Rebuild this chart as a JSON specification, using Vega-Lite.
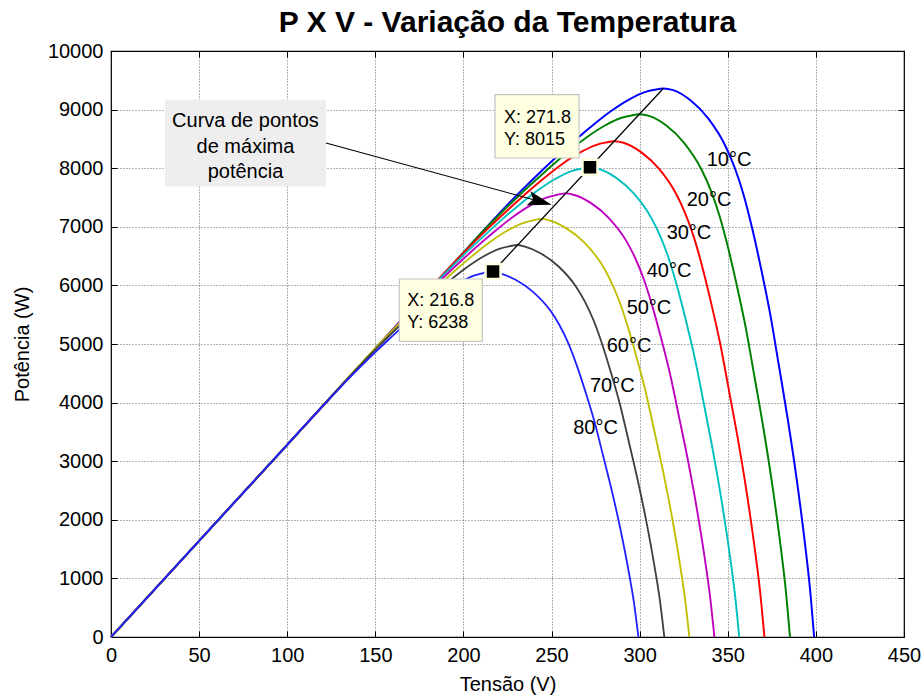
{
  "$schema": "https://vega.github.io/schema/vega-lite/v6.json",
  "width": 793,
  "height": 586,
  "autosize": {"type": "none"},
  "padding": {"left": 111, "top": 51, "right": 20, "bottom": 60},
  "background": "white",
  "title": {
    "text": "P X V - Variação da Temperatura",
    "font": "Liberation Sans",
    "fontSize": 30,
    "fontWeight": "bold",
    "color": "black",
    "anchor": "middle",
    "frame": "group",
    "baseline": "alphabetic",
    "offset": 6,
    "dy": 27
  },
  "config": {
    "font": "Liberation Sans",
    "view": {"stroke": "black", "strokeWidth": 1.2},
    "axis": {
      "labelFont": "Liberation Sans",
      "labelFontSize": 20,
      "labelColor": "black",
      "labelFlush": false,
      "titleFont": "Liberation Sans",
      "titleFontSize": 20,
      "titleFontWeight": "normal",
      "titleColor": "black",
      "domain": false,
      "tickColor": "black",
      "tickSize": -6,
      "gridColor": "#000000",
      "gridOpacity": 0.6,
      "gridDash": [1, 2],
      "gridWidth": 1
    }
  },
  "resolve": {"axis": {"x": "independent", "y": "independent"}},
  "datasets": {
    "curves": [
      {"t": "10°C", "v": 0, "p": 0}, {"t": "10°C", "v": 50, "p": 1640}, {"t": "10°C", "v": 100, "p": 3280}, {"t": "10°C", "v": 150, "p": 4920}, {"t": "10°C", "v": 200, "p": 6560},
      {"t": "10°C", "v": 223.4, "p": 7328}, {"t": "10°C", "v": 233.4, "p": 7635}, {"t": "10°C", "v": 243.4, "p": 7928}, {"t": "10°C", "v": 253.4, "p": 8208}, {"t": "10°C", "v": 263.4, "p": 8479},
      {"t": "10°C", "v": 273.4, "p": 8733}, {"t": "10°C", "v": 283.4, "p": 8967}, {"t": "10°C", "v": 293.4, "p": 9163}, {"t": "10°C", "v": 303.4, "p": 9303}, {"t": "10°C", "v": 308.4, "p": 9338},
      {"t": "10°C", "v": 313.4, "p": 9360}, {"t": "10°C", "v": 319, "p": 9332}, {"t": "10°C", "v": 329, "p": 9154}, {"t": "10°C", "v": 339, "p": 8845}, {"t": "10°C", "v": 349, "p": 8358},
      {"t": "10°C", "v": 354, "p": 8003}, {"t": "10°C", "v": 359, "p": 7544}, {"t": "10°C", "v": 364, "p": 6954}, {"t": "10°C", "v": 369, "p": 6271}, {"t": "10°C", "v": 374, "p": 5522},
      {"t": "10°C", "v": 379, "p": 4633}, {"t": "10°C", "v": 384, "p": 3725}, {"t": "10°C", "v": 389, "p": 2714}, {"t": "10°C", "v": 394, "p": 1544}, {"t": "10°C", "v": 396.5, "p": 870}, {"t": "10°C", "v": 399, "p": 0},

      {"t": "20°C", "v": 0, "p": 0}, {"t": "20°C", "v": 50, "p": 1640}, {"t": "20°C", "v": 100, "p": 3280}, {"t": "20°C", "v": 150, "p": 4920}, {"t": "20°C", "v": 200, "p": 6560},
      {"t": "20°C", "v": 209.8, "p": 6881}, {"t": "20°C", "v": 219.8, "p": 7189}, {"t": "20°C", "v": 229.8, "p": 7483}, {"t": "20°C", "v": 239.8, "p": 7763}, {"t": "20°C", "v": 249.8, "p": 8035},
      {"t": "20°C", "v": 259.8, "p": 8289}, {"t": "20°C", "v": 269.8, "p": 8524}, {"t": "20°C", "v": 279.8, "p": 8720}, {"t": "20°C", "v": 289.8, "p": 8860}, {"t": "20°C", "v": 294.8, "p": 8896},
      {"t": "20°C", "v": 299.8, "p": 8920}, {"t": "20°C", "v": 305.3, "p": 8893}, {"t": "20°C", "v": 315.3, "p": 8724}, {"t": "20°C", "v": 325.3, "p": 8429}, {"t": "20°C", "v": 335.3, "p": 7966},
      {"t": "20°C", "v": 340.3, "p": 7627}, {"t": "20°C", "v": 345.3, "p": 7190}, {"t": "20°C", "v": 350.3, "p": 6628}, {"t": "20°C", "v": 355.3, "p": 5976}, {"t": "20°C", "v": 360.3, "p": 5263},
      {"t": "20°C", "v": 365.3, "p": 4415}, {"t": "20°C", "v": 370.3, "p": 3550}, {"t": "20°C", "v": 375.3, "p": 2587}, {"t": "20°C", "v": 380.3, "p": 1472}, {"t": "20°C", "v": 382.8, "p": 830}, {"t": "20°C", "v": 385.3, "p": 0},

      {"t": "30°C", "v": 0, "p": 0}, {"t": "30°C", "v": 50, "p": 1640}, {"t": "30°C", "v": 100, "p": 3280}, {"t": "30°C", "v": 150, "p": 4920},
      {"t": "30°C", "v": 195.5, "p": 6412}, {"t": "30°C", "v": 205.5, "p": 6721}, {"t": "30°C", "v": 215.5, "p": 7015}, {"t": "30°C", "v": 225.5, "p": 7296}, {"t": "30°C", "v": 235.5, "p": 7569},
      {"t": "30°C", "v": 245.5, "p": 7824}, {"t": "30°C", "v": 255.5, "p": 8060}, {"t": "30°C", "v": 265.5, "p": 8257}, {"t": "30°C", "v": 275.5, "p": 8399}, {"t": "30°C", "v": 280.5, "p": 8436},
      {"t": "30°C", "v": 285.5, "p": 8460}, {"t": "30°C", "v": 290.8, "p": 8435}, {"t": "30°C", "v": 300.8, "p": 8274}, {"t": "30°C", "v": 310.8, "p": 7995}, {"t": "30°C", "v": 320.8, "p": 7555},
      {"t": "30°C", "v": 325.8, "p": 7233}, {"t": "30°C", "v": 330.8, "p": 6819}, {"t": "30°C", "v": 335.8, "p": 6286}, {"t": "30°C", "v": 340.8, "p": 5668}, {"t": "30°C", "v": 345.8, "p": 4991},
      {"t": "30°C", "v": 350.8, "p": 4188}, {"t": "30°C", "v": 355.8, "p": 3367}, {"t": "30°C", "v": 360.8, "p": 2453}, {"t": "30°C", "v": 365.8, "p": 1396}, {"t": "30°C", "v": 368.3, "p": 787}, {"t": "30°C", "v": 370.8, "p": 0},

      {"t": "40°C", "v": 0, "p": 0}, {"t": "40°C", "v": 50, "p": 1640}, {"t": "40°C", "v": 100, "p": 3280}, {"t": "40°C", "v": 150, "p": 4920},
      {"t": "40°C", "v": 181.8, "p": 5963}, {"t": "40°C", "v": 191.8, "p": 6272}, {"t": "40°C", "v": 201.8, "p": 6567}, {"t": "40°C", "v": 211.8, "p": 6849}, {"t": "40°C", "v": 221.8, "p": 7122},
      {"t": "40°C", "v": 231.8, "p": 7378}, {"t": "40°C", "v": 241.8, "p": 7614}, {"t": "40°C", "v": 251.8, "p": 7812}, {"t": "40°C", "v": 261.8, "p": 7955}, {"t": "40°C", "v": 266.8, "p": 7991},
      {"t": "40°C", "v": 271.8, "p": 8015}, {"t": "40°C", "v": 276.5, "p": 7991}, {"t": "40°C", "v": 286.5, "p": 7839}, {"t": "40°C", "v": 296.5, "p": 7574}, {"t": "40°C", "v": 306.5, "p": 7157},
      {"t": "40°C", "v": 311.5, "p": 6853}, {"t": "40°C", "v": 316.5, "p": 6460}, {"t": "40°C", "v": 321.5, "p": 5955}, {"t": "40°C", "v": 326.5, "p": 5370}, {"t": "40°C", "v": 331.5, "p": 4729},
      {"t": "40°C", "v": 336.5, "p": 3967}, {"t": "40°C", "v": 341.5, "p": 3190}, {"t": "40°C", "v": 346.5, "p": 2324}, {"t": "40°C", "v": 351.5, "p": 1322}, {"t": "40°C", "v": 354, "p": 745}, {"t": "40°C", "v": 356.5, "p": 0},

      {"t": "50°C", "v": 0, "p": 0}, {"t": "50°C", "v": 50, "p": 1640}, {"t": "50°C", "v": 100, "p": 3280}, {"t": "50°C", "v": 150, "p": 4920},
      {"t": "50°C", "v": 168, "p": 5510}, {"t": "50°C", "v": 178, "p": 5820}, {"t": "50°C", "v": 188, "p": 6116}, {"t": "50°C", "v": 198, "p": 6399}, {"t": "50°C", "v": 208, "p": 6673},
      {"t": "50°C", "v": 218, "p": 6929}, {"t": "50°C", "v": 228, "p": 7166}, {"t": "50°C", "v": 238, "p": 7365}, {"t": "50°C", "v": 248, "p": 7508}, {"t": "50°C", "v": 253, "p": 7545},
      {"t": "50°C", "v": 258, "p": 7570}, {"t": "50°C", "v": 262.4, "p": 7547}, {"t": "50°C", "v": 272.4, "p": 7404}, {"t": "50°C", "v": 282.4, "p": 7154}, {"t": "50°C", "v": 292.4, "p": 6760},
      {"t": "50°C", "v": 297.4, "p": 6472}, {"t": "50°C", "v": 302.4, "p": 6101}, {"t": "50°C", "v": 307.4, "p": 5625}, {"t": "50°C", "v": 312.4, "p": 5072}, {"t": "50°C", "v": 317.4, "p": 4466},
      {"t": "50°C", "v": 322.4, "p": 3747}, {"t": "50°C", "v": 327.4, "p": 3013}, {"t": "50°C", "v": 332.4, "p": 2195}, {"t": "50°C", "v": 337.4, "p": 1249}, {"t": "50°C", "v": 339.9, "p": 704}, {"t": "50°C", "v": 342.4, "p": 0},

      {"t": "60°C", "v": 0, "p": 0}, {"t": "60°C", "v": 50, "p": 1640}, {"t": "60°C", "v": 100, "p": 3280},
      {"t": "60°C", "v": 154.5, "p": 5068}, {"t": "60°C", "v": 164.5, "p": 5378}, {"t": "60°C", "v": 174.5, "p": 5674}, {"t": "60°C", "v": 184.5, "p": 5958}, {"t": "60°C", "v": 194.5, "p": 6233},
      {"t": "60°C", "v": 204.5, "p": 6491}, {"t": "60°C", "v": 214.5, "p": 6728}, {"t": "60°C", "v": 224.5, "p": 6928}, {"t": "60°C", "v": 234.5, "p": 7072}, {"t": "60°C", "v": 239.5, "p": 7110},
      {"t": "60°C", "v": 244.5, "p": 7135}, {"t": "60°C", "v": 248.2, "p": 7114}, {"t": "60°C", "v": 258.2, "p": 6978}, {"t": "60°C", "v": 268.2, "p": 6743}, {"t": "60°C", "v": 278.2, "p": 6372},
      {"t": "60°C", "v": 283.2, "p": 6100}, {"t": "60°C", "v": 288.2, "p": 5751}, {"t": "60°C", "v": 293.2, "p": 5301}, {"t": "60°C", "v": 298.2, "p": 4780}, {"t": "60°C", "v": 303.2, "p": 4210},
      {"t": "60°C", "v": 308.2, "p": 3532}, {"t": "60°C", "v": 313.2, "p": 2840}, {"t": "60°C", "v": 318.2, "p": 2069}, {"t": "60°C", "v": 323.2, "p": 1177}, {"t": "60°C", "v": 325.7, "p": 664}, {"t": "60°C", "v": 328.2, "p": 0},

      {"t": "70°C", "v": 0, "p": 0}, {"t": "70°C", "v": 50, "p": 1640}, {"t": "70°C", "v": 100, "p": 3280},
      {"t": "70°C", "v": 140.8, "p": 4618}, {"t": "70°C", "v": 150.8, "p": 4929}, {"t": "70°C", "v": 160.8, "p": 5226}, {"t": "70°C", "v": 170.8, "p": 5511}, {"t": "70°C", "v": 180.8, "p": 5787},
      {"t": "70°C", "v": 190.8, "p": 6045}, {"t": "70°C", "v": 200.8, "p": 6283}, {"t": "70°C", "v": 210.8, "p": 6484}, {"t": "70°C", "v": 220.8, "p": 6628}, {"t": "70°C", "v": 225.8, "p": 6666},
      {"t": "70°C", "v": 230.8, "p": 6690}, {"t": "70°C", "v": 234, "p": 6670}, {"t": "70°C", "v": 244, "p": 6543}, {"t": "70°C", "v": 254, "p": 6322}, {"t": "70°C", "v": 264, "p": 5974},
      {"t": "70°C", "v": 269, "p": 5720}, {"t": "70°C", "v": 274, "p": 5392}, {"t": "70°C", "v": 279, "p": 4971}, {"t": "70°C", "v": 284, "p": 4482}, {"t": "70°C", "v": 289, "p": 3947},
      {"t": "70°C", "v": 294, "p": 3312}, {"t": "70°C", "v": 299, "p": 2663}, {"t": "70°C", "v": 304, "p": 1940}, {"t": "70°C", "v": 309, "p": 1104}, {"t": "70°C", "v": 311.5, "p": 622}, {"t": "70°C", "v": 314, "p": 0},

      {"t": "80°C", "v": 0, "p": 0}, {"t": "80°C", "v": 50, "p": 1640}, {"t": "80°C", "v": 100, "p": 3280},
      {"t": "80°C", "v": 126.8, "p": 4159}, {"t": "80°C", "v": 136.8, "p": 4470}, {"t": "80°C", "v": 146.8, "p": 4769}, {"t": "80°C", "v": 156.8, "p": 5055}, {"t": "80°C", "v": 166.8, "p": 5331},
      {"t": "80°C", "v": 176.8, "p": 5590}, {"t": "80°C", "v": 186.8, "p": 5829}, {"t": "80°C", "v": 196.8, "p": 6030}, {"t": "80°C", "v": 206.8, "p": 6175}, {"t": "80°C", "v": 211.8, "p": 6213},
      {"t": "80°C", "v": 216.8, "p": 6238}, {"t": "80°C", "v": 219.3, "p": 6219}, {"t": "80°C", "v": 229.3, "p": 6101}, {"t": "80°C", "v": 239.3, "p": 5895}, {"t": "80°C", "v": 249.3, "p": 5571},
      {"t": "80°C", "v": 254.3, "p": 5333}, {"t": "80°C", "v": 259.3, "p": 5028}, {"t": "80°C", "v": 264.3, "p": 4635}, {"t": "80°C", "v": 269.3, "p": 4179}, {"t": "80°C", "v": 274.3, "p": 3680},
      {"t": "80°C", "v": 279.3, "p": 3088}, {"t": "80°C", "v": 284.3, "p": 2483}, {"t": "80°C", "v": 289.3, "p": 1809}, {"t": "80°C", "v": 294.3, "p": 1029}, {"t": "80°C", "v": 296.8, "p": 580}, {"t": "80°C", "v": 299.3, "p": 0}
    ],
    "curveLabels": [
      {"t": "10°C", "v": 338.0, "p": 8145},
      {"t": "20°C", "v": 326.7, "p": 7462},
      {"t": "30°C", "v": 315.3, "p": 6899},
      {"t": "40°C", "v": 304.0, "p": 6251},
      {"t": "50°C", "v": 292.6, "p": 5620},
      {"t": "60°C", "v": 281.3, "p": 4971},
      {"t": "70°C", "v": 271.8, "p": 4276},
      {"t": "80°C", "v": 262.3, "p": 3567}
    ],
    "mppLine": [
      {"v": 216.8, "p": 6238, "v2": 313.4, "p2": 9360}
    ],
    "arrow": [
      {"v": 122.0, "p": 8430, "v2": 243.5, "p2": 7432}
    ],
    "note": [
      {"v": 30.6, "p": 9169, "v2": 122.0, "p2": 7689}
    ],
    "noteText": [
      {"line": "Curva de pontos", "v": 76.3, "p": 8700},
      {"line": "de máxima", "v": 76.3, "p": 8256},
      {"line": "potência", "v": 76.3, "p": 7829}
    ],
    "tipBoxes": [
      {"v": 217.9, "p": 9254, "v2": 265.6, "p2": 8174},
      {"v": 163.6, "p": 6109, "v2": 210.7, "p2": 5044}
    ],
    "tipText": [
      {"line": "X: 271.8", "v": 223.0, "p": 8773},
      {"line": "Y: 8015", "v": 223.0, "p": 8401},
      {"line": "X: 216.8", "v": 168.1, "p": 5642},
      {"line": "Y: 6238", "v": 168.1, "p": 5273}
    ],
    "markers": [
      {"v": 271.8, "p": 8015},
      {"v": 216.8, "p": 6238}
    ]
  },
  "encoding": {
    "x": {"field": "v", "type": "quantitative", "scale": {"domain": [0, 450], "nice": false}, "axis": null},
    "y": {"field": "p", "type": "quantitative", "scale": {"domain": [0, 10000], "nice": false}, "axis": null}
  },
  "layer": [
    {
      "data": {"name": "curves"},
      "mark": {"type": "line", "interpolate": "monotone"},
      "encoding": {
        "x": {
          "field": "v",
          "type": "quantitative",
          "axis": {
            "orient": "bottom",
            "title": "Tensão (V)",
            "format": "d",
            "values": [0, 50, 100, 150, 200, 250, 300, 350, 400, 450],
            "grid": true,
            "labelPadding": 14,
            "titlePadding": 9
          }
        },
        "y": {
          "field": "p",
          "type": "quantitative",
          "axis": {
            "orient": "left",
            "title": "Potência (W)",
            "format": "d",
            "values": [0, 1000, 2000, 3000, 4000, 5000, 6000, 7000, 8000, 9000, 10000],
            "grid": true,
            "labelPadding": 14,
            "titlePadding": 15
          }
        },
        "color": {
          "field": "t",
          "type": "nominal",
          "scale": {
            "domain": ["10°C", "20°C", "30°C", "40°C", "50°C", "60°C", "70°C", "80°C"],
            "range": ["#0000FF", "#008000", "#FF0000", "#00BFBF", "#BF00BF", "#BFBF00", "#404040", "#2020FF"]
          },
          "legend": null
        },
        "strokeWidth": {
          "field": "t",
          "type": "nominal",
          "scale": {
            "domain": ["10°C", "20°C", "30°C", "40°C", "50°C", "60°C", "70°C", "80°C"],
            "range": [2, 1.8, 1.6, 1.4, 1.3, 1.2, 1.1, 1]
          },
          "legend": null
        }
      }
    },
    {
      "data": {"name": "markers"},
      "mark": {"type": "point", "opacity": 0},
      "encoding": {
        "x": {
          "field": "v",
          "type": "quantitative",
          "axis": {
            "orient": "top",
            "title": null,
            "labels": false,
            "grid": false,
            "values": [0, 50, 100, 150, 200, 250, 300, 350, 400, 450]
          }
        },
        "y": {
          "field": "p",
          "type": "quantitative",
          "axis": {
            "orient": "right",
            "title": null,
            "labels": false,
            "grid": false,
            "values": [0, 1000, 2000, 3000, 4000, 5000, 6000, 7000, 8000, 9000, 10000]
          }
        }
      }
    },
    {
      "data": {"name": "mppLine"},
      "mark": {"type": "rule", "color": "black", "strokeWidth": 1.3},
      "encoding": {"x2": {"field": "v2"}, "y2": {"field": "p2"}}
    },
    {
      "data": {"name": "arrow"},
      "mark": {"type": "rule", "color": "black", "strokeWidth": 1.1},
      "encoding": {"x2": {"field": "v2"}, "y2": {"field": "p2"}}
    },
    {
      "data": {"name": "arrow"},
      "mark": {
        "type": "point",
        "shape": "M1,0L-1,-0.6L-0.6,0L-1,0.6Z",
        "size": 576,
        "angle": 15.3,
        "filled": true,
        "color": "black",
        "opacity": 1
      },
      "encoding": {
        "x": {"field": "v2", "type": "quantitative", "axis": null},
        "y": {"field": "p2", "type": "quantitative", "axis": null}
      }
    },
    {
      "data": {"name": "note"},
      "mark": {"type": "rect", "fill": "#EEEEEE", "stroke": null},
      "encoding": {"x2": {"field": "v2"}, "y2": {"field": "p2"}}
    },
    {
      "data": {"name": "noteText"},
      "mark": {"type": "text", "font": "Liberation Sans", "fontSize": 20, "align": "center", "baseline": "alphabetic", "color": "black"},
      "encoding": {"text": {"field": "line"}}
    },
    {
      "data": {"name": "tipBoxes"},
      "mark": {"type": "rect", "fill": "#FFFFE1", "stroke": "#C4C4C4", "strokeWidth": 1.2},
      "encoding": {"x2": {"field": "v2"}, "y2": {"field": "p2"}}
    },
    {
      "data": {"name": "tipText"},
      "mark": {"type": "text", "font": "Liberation Sans", "fontSize": 18, "align": "left", "baseline": "alphabetic", "color": "black"},
      "encoding": {"text": {"field": "line"}}
    },
    {
      "data": {"name": "markers"},
      "mark": {"type": "point", "shape": "square", "size": 225, "filled": true, "fill": "black", "stroke": "#FFFFE1", "strokeWidth": 2.5, "opacity": 1}
    },
    {
      "data": {"name": "curveLabels"},
      "mark": {"type": "text", "font": "Liberation Sans", "fontSize": 20, "align": "left", "baseline": "middle", "color": "black"},
      "encoding": {"text": {"field": "t"}}
    }
  ]
}
